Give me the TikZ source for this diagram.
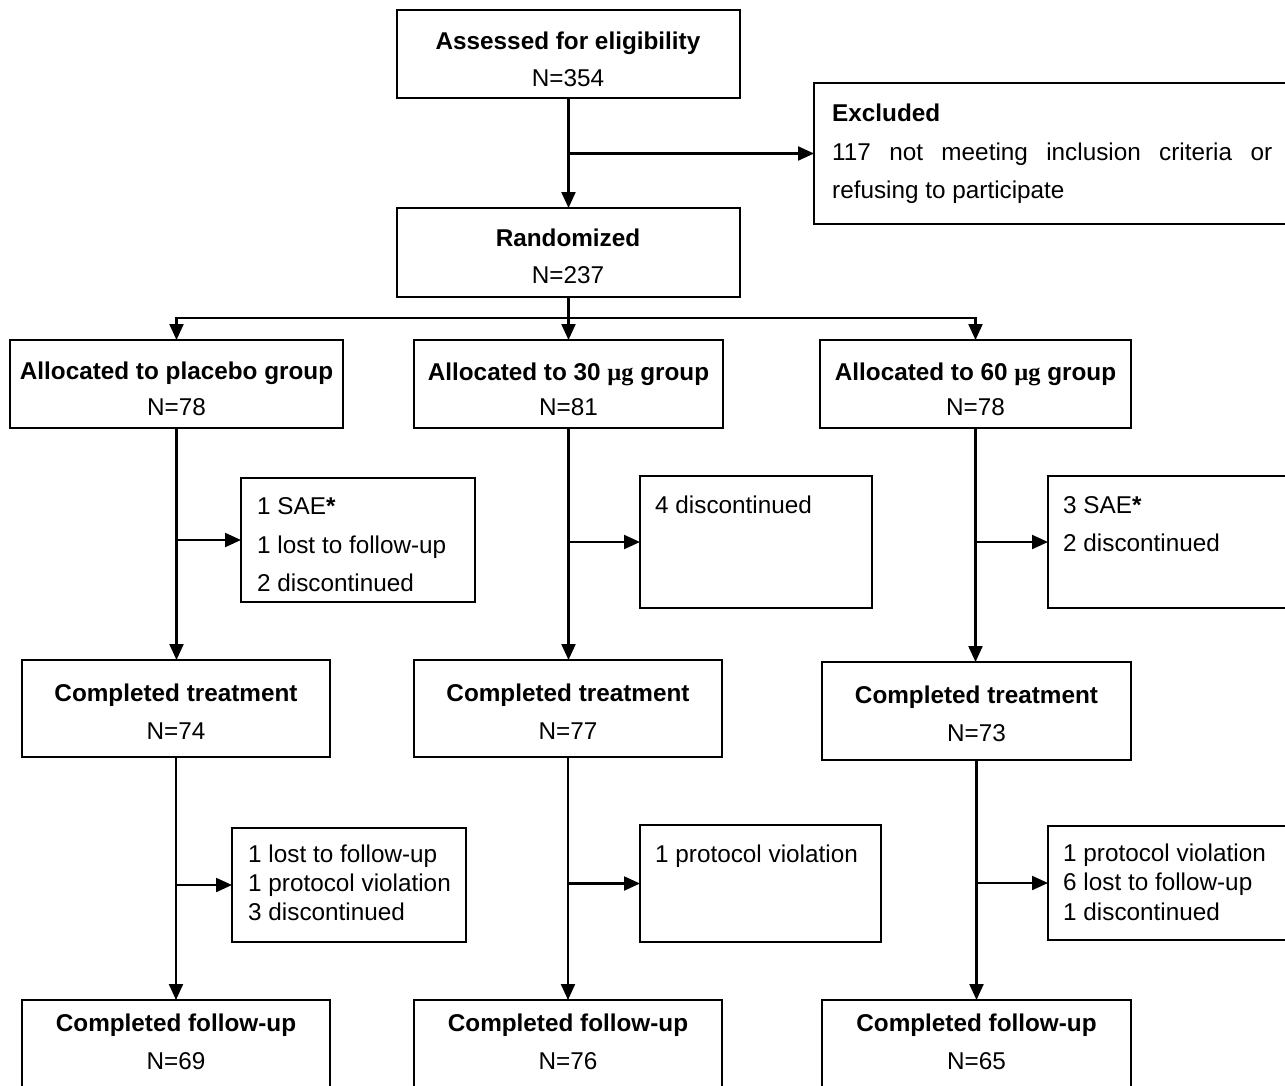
\documentclass[tikz,border=0pt]{standalone}
\usepackage{fontspec}
\setmainfont{Liberation Sans}
\newfontfamily\serifmu{Liberation Serif}
\usetikzlibrary{arrows.meta}
\newcommand\bx[5]{\node[box, minimum width=\fpeval{#4-#2}pt, minimum height=\fpeval{#5-#3}pt] (#1) at (#2,#3) {};}
\begin{document}
\begin{tikzpicture}[x=1pt,y=-1pt,
  box/.style={draw, line width=1.6pt, anchor=north west, inner sep=0pt, outer sep=0pt},
  arr/.style={line width=2.2pt, -{Triangle[length=16pt,width=14pt]}},
  ln/.style={line width=2.2pt},
  txt/.style={anchor=base, inner sep=0pt, font=\fontsize{24.3}{28}\selectfont},
  bt/.style={txt, font=\fontsize{24.3}{28}\selectfont\bfseries},
  lt/.style={txt, anchor=base west},
  lbt/.style={bt, anchor=base west}]
\useasboundingbox (0,0) rectangle (1285,1085);
\clip (0,0) rectangle (1285,1085);
\fill[white] (0,0) rectangle (1285,1085);
% boxes
\bx{assess}{397}{10}{740}{98}
\bx{rand}{397}{208}{740}{297}
\bx{excl}{814}{83}{1300}{224}
\bx{allocP}{10}{340}{343}{428}
\bx{alloc30}{414}{340}{723}{428}
\bx{alloc60}{820}{340}{1131}{428}
\bx{sP1}{241}{478}{475}{602}
\bx{s301}{640}{476}{872}{608}
\bx{s601}{1048}{476}{1300}{608}
\bx{compP}{22}{660}{330}{757}
\bx{comp30}{414}{660}{722}{757}
\bx{comp60}{822}{662}{1131}{760}
\bx{sP2}{232}{828}{466}{942}
\bx{s302}{640}{825}{881}{942}
\bx{s602}{1048}{826}{1300}{940}
\bx{fuP}{22}{1000}{330}{1120}
\bx{fu30}{414}{1000}{722}{1120}
\bx{fu60}{822}{1000}{1131}{1120}
% texts
\node[bt] (tA1) at (568,49) {Assessed for eligibility};
\node[txt] (tA2) at (568,86) {N=354};
\node[bt] (tR1) at (568,246) {Randomized};
\node[txt] (tR2) at (568,283) {N=237};
\node[lbt] (tE1) at (832,121) {Excluded};
\node[lt] (tE2) at (832,160) {\makebox[440pt][s]{117 not meeting inclusion criteria or}};
\node[lt] (tE3) at (832,198) {refusing to participate};
\node[bt] (tP1) at (176.5,379) {Allocated to placebo group};
\node[txt] (tP2) at (176.5,415) {N=78};
\node[bt] (t31) at (568.5,380) {Allocated to 30 {\serifmu µg} group};
\node[txt] (t32) at (568.5,415) {N=81};
\node[bt] (t61) at (975.5,380) {Allocated to 60 {\serifmu µg} group};
\node[txt] (t62) at (975.5,415) {N=78};
\node[lt] (sP1a) at (257,514) {1 SAE\textbf{*}};
\node[lt] (sP1b) at (257,553) {1 lost to follow-up};
\node[lt] (sP1c) at (257,591) {2 discontinued};
\node[lt] (s301a) at (655,513) {4 discontinued};
\node[lt] (s601a) at (1063,513) {3 SAE\textbf{*}};
\node[lt] (s601b) at (1063,551) {2 discontinued};
\node[bt] (cP1) at (176,701) {Completed treatment};
\node[txt] (cP2) at (176,739) {N=74};
\node[bt] (c31) at (568,701) {Completed treatment};
\node[txt] (c32) at (568,739) {N=77};
\node[bt] (c61) at (976.5,703) {Completed treatment};
\node[txt] (c62) at (976.5,741) {N=73};
\node[lt] (sP2a) at (248,862) {1 lost to follow-up};
\node[lt] (sP2b) at (248,891) {1 protocol violation};
\node[lt] (sP2c) at (248,920) {3 discontinued};
\node[lt] (s302a) at (655,862) {1 protocol violation};
\node[lt] (s602a) at (1063,861) {1 protocol violation};
\node[lt] (s602b) at (1063,890) {6 lost to follow-up};
\node[lt] (s602c) at (1063,920) {1 discontinued};
\node[bt] (fP1) at (176,1031) {Completed follow-up};
\node[txt] (fP2) at (176,1069) {N=69};
\node[bt] (f31) at (568,1031) {Completed follow-up};
\node[txt] (f32) at (568,1069) {N=76};
\node[bt] (f61) at (976.5,1031) {Completed follow-up};
\node[txt] (f62) at (976.5,1069) {N=65};
% connectors
\coordinate (split) at (568.5,318);
\draw[arr] (assess.south) -- (rand.north);
\draw[arr] (assess.south |- excl.west) -- (excl.west);
\draw[ln] (rand.south) -- (split);
\draw[arr] (split) -- (alloc30.north);
\draw[arr] (split) -| (allocP.north);
\draw[arr] (split) -| (alloc60.north);
\draw[arr] (allocP.south) -- (allocP.south |- compP.north);
\draw[arr] (allocP.south |- sP1.west) -- (sP1.west);
\draw[arr] (alloc30.south) -- (alloc30.south |- comp30.north);
\draw[arr] (alloc30.south |- s301.west) -- (s301.west);
\draw[arr] (alloc60.south) -- (alloc60.south |- comp60.north);
\draw[arr] (alloc60.south |- s601.west) -- (s601.west);
\draw[arr] (compP.south) -- (compP.south |- fuP.north);
\draw[arr] (compP.south |- sP2.west) -- (sP2.west);
\draw[arr] (comp30.south) -- (comp30.south |- fu30.north);
\draw[arr] (comp30.south |- s302.west) -- (s302.west);
\draw[arr] (comp60.south) -- (comp60.south |- fu60.north);
\draw[arr] (comp60.south |- s602.west) -- (s602.west);
\end{tikzpicture}
\end{document}
